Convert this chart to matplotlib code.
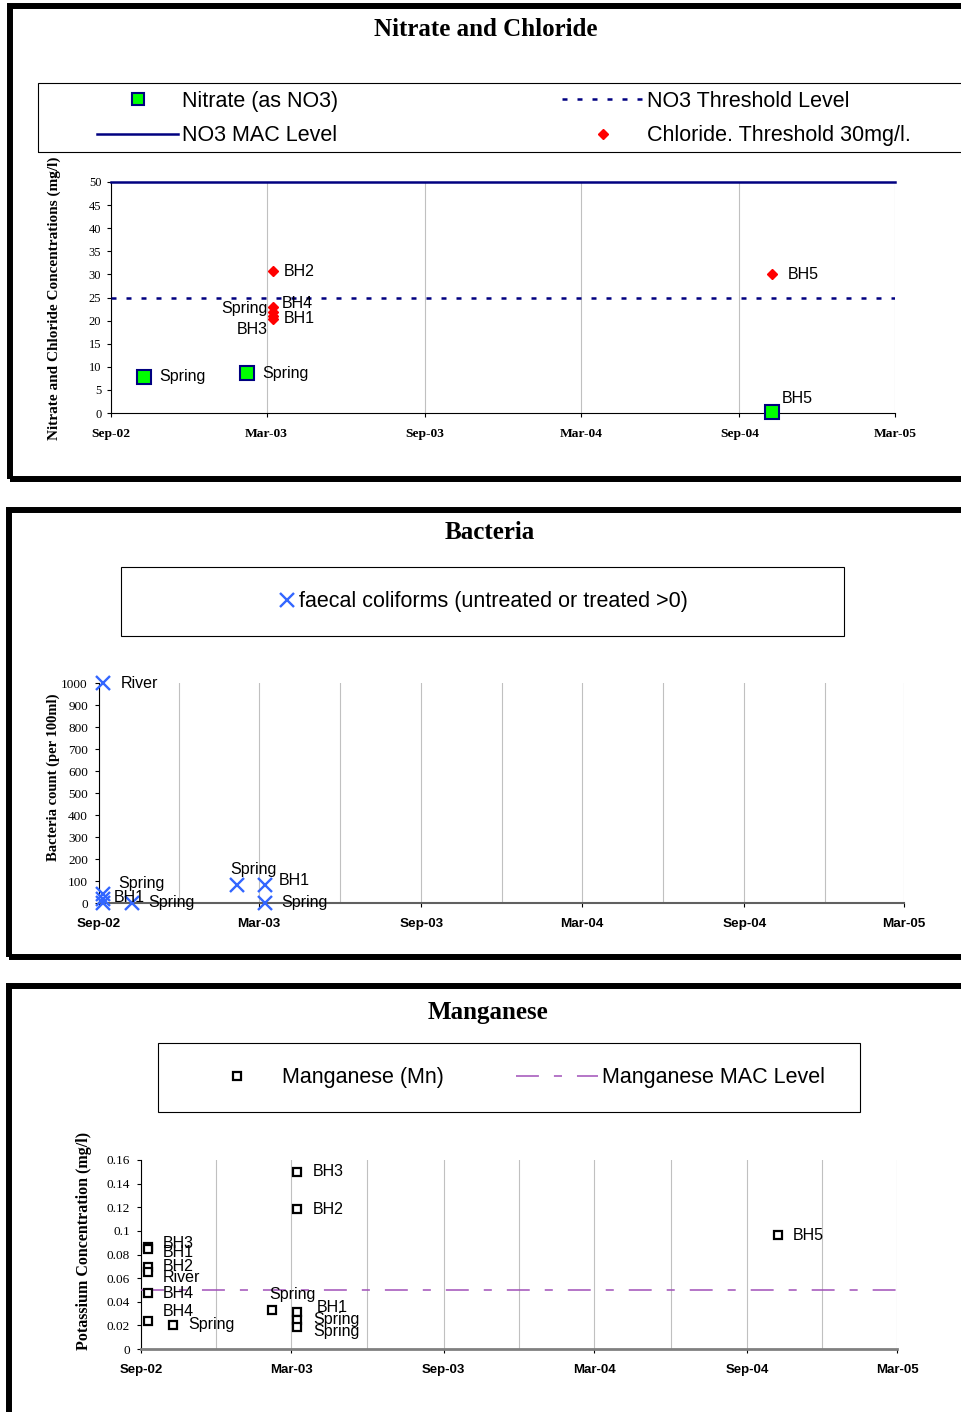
import matplotlib
matplotlib.use('Agg')
from matplotlib import pyplot as plt
import matplotlib.dates as mdates
from matplotlib.lines import Line2D
from matplotlib.patches import Rectangle
import numpy as np
import pandas as pd

# Nitrate and Chloride
nitrate_dates = ['2002-10-09', '2003-02-06', '2004-10-09']
nitrate_values = [7.9, 8.6, 0.3]
nitrate_labels = ['Spring', 'Spring', 'BH5']

chloride_dates = ['2003-03-08', '2003-03-08', '2003-03-08', '2003-03-08', '2003-03-08', '2004-10-09']
chloride_values = [30.7, 23.0, 21.8, 20.9, 20.4, 30.0]
chloride_labels = ['BH2', 'BH4', 'Spring', 'BH1', 'BH3', 'BH5']

no3_mac_level = 50
no3_threshold_level = 25

# Bacteria
bacteria_dates = ['2002-09-05', '2002-09-05', '2002-09-05', '2002-09-05',
                  '2002-10-08', '2003-02-04', '2003-03-08', '2003-03-08']
bacteria_values = [1000, 40, 18, 0, 0, 82, 82, 0]
bacteria_labels = ['River', 'Spring', 'BH1', '', 'Spring', 'Spring', 'BH1', 'Spring']

# Manganese
manganese_dates = ['2002-09-09'] * 6 + ['2002-10-09', '2003-02-06'] + ['2003-03-08'] * 5 + ['2004-10-08']
manganese_values = [0.086, 0.0847, 0.069, 0.065, 0.047, 0.024, 0.0206, 0.033,
                    0.150, 0.1185, 0.031, 0.0248, 0.0183, 0.0965]
manganese_labels = ['BH3', 'BH1', 'BH2', 'River', 'BH4', 'BH4', 'Spring', 'Spring',
                    'BH3', 'BH2', 'BH1', 'Spring', 'Spring', 'BH5']
manganese_mac_level = 0.05

# label nudges in pixels (dx, dy, alignment)
nitrate_nudge = [(16, 0, 'left'), (15, 0, 'left'), (10, 13, 'left')]
chloride_nudge = [(11, 0, 'left'), (9, 3, 'left'), (-5, 4, 'right'),
                  (11, -2, 'left'), (-5, -11, 'right'), (16, 0, 'left')]
bacteria_nudge = [(18, 0, 'left'), (16, 11, 'left'), (11, 2, 'left'), (0, 0, 'left'),
                  (17, 0, 'left'), (17, 15, 'center'), (14, 4, 'left'), (16, 0, 'left')]
manganese_nudge = [(15, 4, 'left'), (15, -4, 'left'), (15, 1, 'left'), (15, -5, 'left'),
                   (15, 0, 'left'), (15, 9, 'left'), (16, 0, 'left'), (-3, 16, 'left'),
                   (16, 0, 'left'), (16, 0, 'left'), (20, 5, 'left'), (16, 0, 'left'),
                   (16, -4, 'left'), (15, 0, 'left')]

DPI = 100
W, H = 961, 1412
SERIF = 'Liberation Serif'
SANS = 'Liberation Sans'
NAVY = '#000080'
XBLUE = '#3366ff'
PURPLE = '#a050b8'

plt.rcParams['lines.scale_dashes'] = False
plt.rcParams['font.family'] = SANS

fig = plt.figure(figsize=(W / DPI, H / DPI), dpi=DPI)


def px_axes(left, top, right, bottom):
    return fig.add_axes([left / W, 1 - bottom / H, (right - left) / W, (bottom - top) / H])


def box(left, top, right, bottom, lw):
    fig.add_artist(Rectangle((left / W, 1 - bottom / H), (right - left) / W, (bottom - top) / H,
                             transform=fig.transFigure, fill=False, lw=lw, ec='black',
                             clip_on=False))


def fig_text(x, y, s, **kw):
    fig.text(x / W, 1 - y / H, s, ha='center', va='center', **kw)


def date_axis(ax, family, size, minor):
    majors = pd.date_range('2002-09-01', '2005-03-01', freq='6MS')
    ax.set_xlim(mdates.date2num(majors[0]), mdates.date2num(majors[-1]))
    ax.set_xticks(mdates.date2num(majors), labels=list(majors.strftime('%b-%y')),
                  fontfamily=family, fontweight='bold', fontsize=size)
    if minor:
        quarters = pd.date_range('2002-09-01', '2005-03-01', freq='3MS')
        ax.set_xticks(mdates.date2num(quarters), minor=True)
        ax.tick_params(axis='x', which='minor', length=0)
    ax.grid(axis='x', which='both', color='#c0c0c0', lw=0.8)
    ax.tick_params(axis='x', which='major', direction='out', length=3, pad=8)
    ax.spines[['top', 'right']].set_visible(False)


def label_points(ax, x, y, labels, nudges):
    for xi, yi, s, (dx, dy, ha) in zip(x, y, labels, nudges):
        ax.annotate(s, (xi, yi), xytext=(dx, dy), textcoords='offset pixels', ha=ha,
                    va='center', fontsize=11.5, fontfamily=SANS, annotation_clip=False,
                    zorder=5)


def key(handles, x, y, handle_px, row_px=35):
    fs = 15.5
    fs_px = fs / 72 * DPI
    fig.legend(handles=handles, loc='center left', bbox_to_anchor=(x / W, 1 - y / H),
               frameon=False, borderpad=0, borderaxespad=0,
               prop={'family': SANS, 'size': fs}, handlelength=handle_px / fs_px,
               handletextpad=4 / fs_px, labelspacing=(row_px - 1.0 * fs_px) / fs_px)


# ---------------- panel 1: Nitrate and Chloride ----------------
box(9.5, 5.5, 1000, 479, 4.3)
fig_text(486, 30, 'Nitrate and Chloride', fontfamily=SERIF, fontweight='bold', fontsize=18)
box(38, 83, 1000, 152, 0.8)

ax1 = px_axes(111, 182, 895, 413)
x_no3 = mdates.date2num(pd.to_datetime(nitrate_dates))
x_cl = mdates.date2num(pd.to_datetime(chloride_dates))
ax1.axhline(no3_mac_level, color=NAVY, lw=1.8, clip_on=False, zorder=3)
ax1.axhline(no3_threshold_level, color=NAVY, lw=1.8, dashes=(3.6, 7.2), zorder=3)
ax1.plot(x_no3, nitrate_values, ls='none', marker='s', ms=9.5, mfc='#00ff00', mec=NAVY,
         mew=1.5, clip_on=False, zorder=4)
ax1.plot(x_cl, chloride_values, ls='none', marker='D', ms=5, mfc='red', mec='red',
         clip_on=False, zorder=4)
label_points(ax1, x_no3, nitrate_values, nitrate_labels, nitrate_nudge)
label_points(ax1, x_cl, chloride_values, chloride_labels, chloride_nudge)
ax1.set_ylim(0, 50)
ax1.set_yticks(np.arange(0, 51, 5), labels=[f'{t:g}' for t in np.arange(0, 51, 5)],
               fontfamily=SERIF, fontsize=9)
ax1.tick_params(axis='y', direction='out', length=3, pad=4)
date_axis(ax1, SERIF, 9.7, minor=False)
fig_text(54, 298, 'Nitrate and Chloride Concentrations (mg/l)', rotation=90,
         fontfamily=SERIF, fontweight='bold', fontsize=11)

key([Line2D([], [], ls='none', marker='s', ms=8.5, mfc='#00ff00', mec=NAVY, mew=1.5,
            label='Nitrate (as NO3)'),
     Line2D([], [], color=NAVY, lw=1.8, label='NO3 MAC Level')], 97, 118.5, 81)
key([Line2D([], [], color=NAVY, lw=1.8, dashes=(3.6, 7.2), label='NO3 Threshold Level'),
     Line2D([], [], ls='none', marker='D', ms=5, mfc='red', mec='red',
            label='Chloride. Threshold 30mg/l.')], 562, 118.5, 81)

# ---------------- panel 2: Bacteria ----------------
box(8.5, 509.5, 1000, 957, 4.3)
fig_text(490, 533, 'Bacteria', fontfamily=SERIF, fontweight='bold', fontsize=18)
box(121, 567, 844, 636, 0.8)

ax2 = px_axes(99, 683, 904, 903)
x_bac = mdates.date2num(pd.to_datetime(bacteria_dates))
ax2.plot(x_bac, bacteria_values, ls='none', marker='x', ms=10.5, mec=XBLUE, mew=1.7,
         clip_on=False, zorder=4)
label_points(ax2, x_bac, bacteria_values, bacteria_labels, bacteria_nudge)
ax2.set_ylim(0, 1000)
ax2.set_yticks(np.arange(0, 1001, 100), labels=[f'{t:g}' for t in np.arange(0, 1001, 100)],
               fontfamily=SERIF, fontsize=9.5)
ax2.tick_params(axis='y', direction='out', length=3, pad=5)
date_axis(ax2, SANS, 9.7, minor=True)
ax2.spines['bottom'].set_color('#606060')
ax2.spines['bottom'].set_linewidth(1.5)
fig_text(53, 777, 'Bacteria count (per 100ml)', rotation=90,
         fontfamily=SERIF, fontweight='bold', fontsize=10.5)

key([Line2D([], [], ls='none', marker='x', ms=10.5, mec=XBLUE, mew=1.7,
            label='faecal coliforms (untreated or treated >0)')], 279, 602, 16)

# ---------------- panel 3: Manganese ----------------
box(8.5, 986, 1000, 1440, 4.3)
fig_text(488, 1012, 'Manganese', fontfamily=SERIF, fontweight='bold', fontsize=18)
box(158, 1043, 860, 1112, 0.8)

ax3 = px_axes(141, 1160, 897, 1349)
x_mn = mdates.date2num(pd.to_datetime(manganese_dates))
ax3.axhline(manganese_mac_level, color=PURPLE, lw=1.1, dashes=(16.5, 10.8, 5.8, 10.8),
            zorder=3)
ax3.plot(x_mn, manganese_values, ls='none', marker='s', ms=5.5, mfc='white', mec='black',
         mew=1.6, clip_on=False, zorder=4)
label_points(ax3, x_mn, manganese_values, manganese_labels, manganese_nudge)
mn_ticks = np.arange(0, 0.161, 0.02)
ax3.set_ylim(0, 0.16)
ax3.set_yticks(mn_ticks, labels=[f'{t:g}' for t in mn_ticks], fontfamily=SERIF, fontsize=9.5)
ax3.tick_params(axis='y', direction='out', length=3, pad=5)
date_axis(ax3, SANS, 9.5, minor=True)
ax3.spines['bottom'].set_color('#808080')
ax3.spines['bottom'].set_linewidth(2)
fig_text(84, 1241, 'Potassium Concentration (mg/l)', rotation=90,
         fontfamily=SERIF, fontweight='bold', fontsize=11.5)

key([Line2D([], [], ls='none', marker='s', ms=5.5, mfc='white', mec='black', mew=1.6,
            label='Manganese (Mn)')], 196, 1078, 82)
key([Line2D([], [], color=PURPLE, lw=1.1, dashes=(16.5, 10.8, 5.8, 10.8),
            label='Manganese MAC Level')], 516, 1078, 82)

plt.savefig('out.png', dpi=DPI)
